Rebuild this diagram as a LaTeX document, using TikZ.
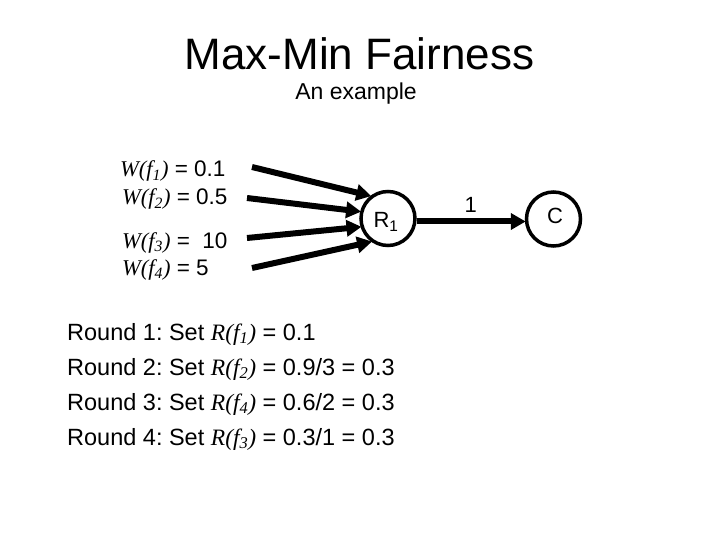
\documentclass[tikz,border=0pt]{standalone}
\usepackage{fontspec}
\setmainfont{Liberation Sans}
\newfontfamily\tmsfont{Liberation Serif}
\usetikzlibrary{arrows.meta}
\frenchspacing
\newcommand\fnw[2]{{\tmsfont\itshape #1(f\textsubscript{#2})}}
\tikzset{
  lbl/.style={anchor=base west, inner sep=0pt, font=\fontsize{22.5}{26}\selectfont},
  rnd/.style={anchor=base west, inner sep=0pt, font=\fontsize{23.5}{27}\selectfont},
  router/.style={circle, draw, line width=3.5pt, minimum size=54pt, inner sep=0pt},
  flow/.style={line width=6pt, -{Triangle[length=15pt,width=16pt]}, shorten >=-1pt},
}
\begin{document}
\begin{tikzpicture}[x=1pt,y=-1pt]
\useasboundingbox (0,0) rectangle (720,540);
\node[anchor=base, inner sep=0pt, font=\fontsize{44}{48}\selectfont] (title) at (359.5,70) {Max-Min Fairness};
\node[anchor=base, inner sep=0pt, font=\fontsize{23}{27}\selectfont] (sub) at (356,100) {An example};

\node[lbl] (w1) at (120,177) {\fnw{W}{1} = 0.1};
\node[lbl] (w2) at (122,205) {\fnw{W}{2} = 0.5};
\node[lbl] (w3) at (122,248) {\fnw{W}{3} = \ 10};
\node[lbl] (w4) at (122,275) {\fnw{W}{4} = 5};

\node[router] (R1) at (388,218.5) {};
\node[inner sep=0pt, font=\fontsize{22}{26}\selectfont, anchor=base] (R1t) at (386,228) {R\textsubscript{1}};
\node[router] (C) at (553.5,219) {};
\node[inner sep=0pt, font=\fontsize{22}{26}\selectfont, anchor=base] (Ct) at (555,224) {C};

\coordinate (s1) at (252,167);
\coordinate (s2) at (247,198);
\coordinate (s3) at (247,238);
\coordinate (s4) at (252,268);
\draw[flow] (s1) -- (R1.128);
\draw[flow] (s2) -- (R1.166);
\draw[flow] (s3) -- (R1.197);
\draw[flow] (s4) -- (R1.234);
\draw[flow] (R1.east |- 0,221.5) -- (C.west |- 0,221.5) node[pos=0.5, above=6pt, inner sep=0pt, font=\fontsize{22}{26}\selectfont] (cap) {1};

\node[rnd] (r1) at (67,340) {Round 1: Set \fnw{R}{1} = 0.1};
\node[rnd] (r2) at (67,375) {Round 2: Set \fnw{R}{2} = 0.9/3 = 0.3};
\node[rnd] (r3) at (67,410) {Round 3: Set \fnw{R}{4} = 0.6/2 = 0.3};
\node[rnd] (r4) at (67,445) {Round 4: Set \fnw{R}{3} = 0.3/1 = 0.3};
\end{tikzpicture}
\end{document}
